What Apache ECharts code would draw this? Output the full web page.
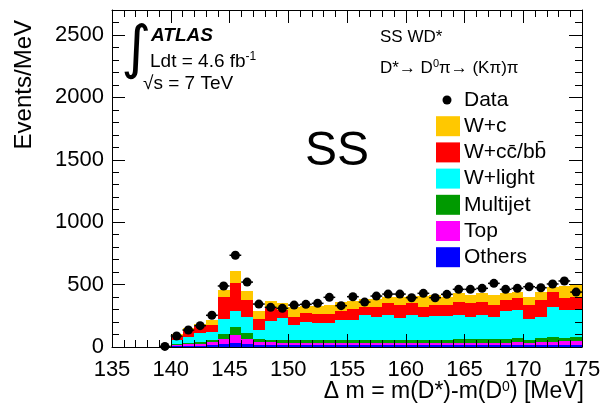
<!doctype html>
<html>
<head>
  <meta charset="utf-8">
  <title>SS WD* delta m</title>
  <script src="https://cdn.jsdelivr.net/npm/echarts@6/dist/echarts.min.js"></script>
  <style>
    html, body { margin: 0; padding: 0; background: #fff; }
    #main { width: 604px; height: 410px; }
  </style>
</head>
<body>
  <div id="main"></div>
  <script>
  // bin centres in MeV (1 MeV bins), values in Events/MeV
  var binCenters = [139.5, 140.5, 141.5, 142.5, 143.5, 144.5, 145.5, 146.5, 147.5, 148.5,
                    149.5, 150.5, 151.5, 152.5, 153.5, 154.5, 155.5, 156.5, 157.5, 158.5,
                    159.5, 160.5, 161.5, 162.5, 163.5, 164.5, 165.5, 166.5, 167.5, 168.5,
                    169.5, 170.5, 171.5, 172.5, 173.5, 174.5];
  var othersVals   = [0, 8, 10, 12, 13, 24, 30, 28, 20, 18, 16, 14, 14, 14, 14, 14, 14, 14,
                      14, 14, 14, 14, 14, 14, 14, 14, 14, 14, 14, 14, 15, 15, 15, 16, 16, 16];
  var topVals      = [0, 10, 12, 12, 24, 40, 64, 36, 23, 19, 19, 18, 18, 18, 18, 19, 19, 19,
                      19, 20, 20, 20, 20, 20, 21, 21, 21, 22, 22, 22, 25, 17, 25, 28, 34, 34];
  var multijetVals = [0, 7, 8, 18, 19, 40, 64, 46, 24, 23, 23, 23, 24, 24, 24, 24, 24, 25,
                      25, 24, 24, 25, 25, 26, 25, 27, 27, 27, 28, 29, 30, 28, 30, 36, 25, 28];
  var wlightVals   = [0, 31, 48, 73, 64, 118, 133, 133, 73, 146, 172, 121, 147, 134, 134, 159, 159, 198,
                      180, 198, 177, 197, 184, 188, 188, 194, 181, 193, 179, 226, 226, 162, 168, 243, 221, 218];
  var wccbbVals    = [0, 34, 58, 53, 56, 181, 224, 133, 85, 104, 66, 62, 72, 74, 74, 75, 88, 67,
                      85, 94, 101, 94, 80, 88, 88, 107, 107, 101, 93, 85, 94, 114, 138, 120, 94, 102];
  var wcVals       = [0, 11, 14, 16, 40, 53, 94, 75, 67, 61, 59, 85, 53, 64, 72, 72, 64, 59,
                      59, 53, 67, 58, 85, 80, 62, 67, 66, 73, 80, 54, 53, 67, 67, 40, 100, 107];
  var dataVals     = [5, 88, 136, 171, 254, 489, 735, 520, 344, 318, 310, 336, 342, 350, 398, 331, 403, 360,
                      408, 424, 424, 395, 430, 395, 422, 462, 462, 470, 510, 462, 470, 483, 475, 505, 529, 440];

  var xTicks = [135, 140, 145, 150, 155, 160, 165, 170, 175];
  var yTicks = [0, 500, 1000, 1500, 2000, 2500];

  var components = [
    { name: 'Others',   values: othersVals,   color: '#0000ff' },
    { name: 'Top',      values: topVals,      color: '#ff00ff' },
    { name: 'Multijet', values: multijetVals, color: '#009a00' },
    { name: 'W+light',  values: wlightVals,   color: '#00ffff' },
    { name: 'W+cc\u0304/bb\u0304', values: wccbbVals, color: '#ff0000' },
    { name: 'W+c',      values: wcVals,       color: '#ffc800' }
  ];

  var FONT = 'Liberation Sans, Arial, Helvetica, sans-serif';

  // cumulative stacking
  var running = binCenters.map(function () { return 0; });
  var series = components.map(function (comp) {
    var d = binCenters.map(function (c, i) {
      var lo = running[i];
      running[i] += comp.values[i];
      return [c, lo, running[i]];
    });
    return {
      name: comp.name,
      type: 'custom',
      xAxisIndex: 0,
      yAxisIndex: 0,
      itemStyle: { color: comp.color },
      renderItem: function (params, api) {
        var c = api.value(0), lo = api.value(1), hi = api.value(2);
        if (hi <= lo) return;
        var p0 = api.coord([c - 0.5, hi]);
        var p1 = api.coord([c + 0.5, lo]);
        var x0 = Math.round(p0[0]), x1 = Math.round(p1[0]);
        var y0 = Math.round(p0[1]), y1 = Math.round(p1[1]);
        return {
          type: 'rect',
          shape: { x: x0, y: y0, width: x1 - x0, height: y1 - y0 },
          style: { fill: api.visual('color') }
        };
      },
      data: d,
      z: 2
    };
  });

  series.push({
    name: 'Data',
    type: 'custom',
    xAxisIndex: 0,
    yAxisIndex: 0,
    renderItem: function (params, api) {
      var c = api.value(0), v = api.value(1);
      var pl = api.coord([c - 0.5, v]);
      var pr = api.coord([c + 0.5, v]);
      var pc = api.coord([c, v]);
      return {
        type: 'group',
        children: [
          { type: 'line', shape: { x1: pl[0], y1: pc[1], x2: pr[0], y2: pc[1] },
            style: { stroke: '#000', lineWidth: 1.5 } },
          { type: 'circle', shape: { cx: pc[0], cy: pc[1], r: 4.5 },
            style: { fill: '#000' } }
        ]
      };
    },
    data: binCenters.map(function (c, i) { return [c, dataVals[i]]; }),
    z: 4
  });

  function baseAxis(extra) {
    var a = {
      type: 'value',
      z: 10,
      axisLine: { show: true, onZero: false, lineStyle: { color: '#000', width: 1 } },
      axisTick: { show: true, inside: true, length: 13, lineStyle: { color: '#000' } },
      minorTick: { show: true, splitNumber: 5, length: 7, lineStyle: { color: '#000' } },
      splitLine: { show: false },
      minorSplitLine: { show: false }
    };
    for (var k in extra) a[k] = extra[k];
    return a;
  }

  var xLabel = { show: true, fontSize: 22, color: '#000', fontFamily: FONT, margin: 12,
    formatter: function (v) { return xTicks.indexOf(v) >= 0 ? String(v) : ''; } };
  var yLabel = { show: true, fontSize: 22, color: '#000', fontFamily: FONT, margin: 8,
    formatter: function (v) { return yTicks.indexOf(v) >= 0 ? String(v) : ''; } };

  // legend drawn as graphics in the ROOT style
  var legendItems = [{ name: 'Data', marker: 'dot' }].concat(
    components.slice().reverse().map(function (c) { return { name: c.name, color: c.color }; }));
  var legendGraphics = [];
  legendItems.forEach(function (it, i) {
    var cy = 100 + i * 26.2;
    if (it.marker === 'dot') {
      legendGraphics.push({ type: 'circle', shape: { cx: 447, cy: cy, r: 4.5 }, style: { fill: '#000' } });
    } else {
      legendGraphics.push({ type: 'rect', shape: { x: 436, y: cy - 10, width: 24, height: 20 },
        style: { fill: it.color } });
    }
    legendGraphics.push({ type: 'text', x: 464, y: cy,
      style: { text: it.name, font: '21px ' + FONT, fill: '#000', textAlign: 'left', textVerticalAlign: 'middle' } });
  });

  var option = {
    animation: false,
    backgroundColor: '#fff',
    grid: { left: 112, right: 22, top: 10, bottom: 63 },
    xAxis: [
      baseAxis({ position: 'bottom', min: 135, max: 175, interval: 5, axisLabel: xLabel }),
      baseAxis({ position: 'top', min: 135, max: 175, interval: 5, axisLabel: { show: false } })
    ],
    yAxis: [
      baseAxis({ position: 'left', min: 0, max: 2700, interval: 500, axisLabel: yLabel }),
      baseAxis({ position: 'right', min: 0, max: 2700, interval: 500, axisLabel: { show: false } })
    ],
    series: series,
    graphic: [
      { type: 'text', x: 24, y: 20, rotation: Math.PI / 2,
        style: { text: 'Events/MeV', font: '24px ' + FONT, fill: '#000', textAlign: 'right', textVerticalAlign: 'middle' } },
      { type: 'text', x: 584, y: 392,
        style: { text: '\u0394 m = m(D*)-m(D{sup|0}) [MeV]', font: '23px ' + FONT, fill: '#000',
          textAlign: 'right', textVerticalAlign: 'middle',
          rich: { sup: { fontSize: 14, verticalAlign: 'top', padding: [0, 0, 10, 0], fontFamily: FONT } } } },
      { type: 'text', x: 136, y: 52,
        style: { text: '\u222B', font: '58px DejaVu Sans', fill: '#000', textAlign: 'center', textVerticalAlign: 'middle' } },
      { type: 'text', x: 151, y: 36,
        style: { text: 'ATLAS', font: 'italic bold 19px ' + FONT, fill: '#000', textAlign: 'left', textVerticalAlign: 'middle' } },
      { type: 'text', x: 150, y: 62,
        style: { text: 'Ldt = 4.6 fb{sup|-1}', font: '19px ' + FONT, fill: '#000', textAlign: 'left', textVerticalAlign: 'middle',
          rich: { sup: { fontSize: 12, verticalAlign: 'top', padding: [0, 0, 10, 0], fontFamily: FONT } } } },
      { type: 'text', x: 143, y: 84,
        style: { text: '\u221As = 7 TeV', font: '19px ' + FONT, fill: '#000', textAlign: 'left', textVerticalAlign: 'middle' } },
      { type: 'text', x: 380, y: 37,
        style: { text: 'SS WD*', font: '17px ' + FONT, fill: '#000', textAlign: 'left', textVerticalAlign: 'middle' } },
      { type: 'text', x: 380, y: 68,
        style: { text: 'D*\u2192 D{sup|0}\u03C0\u2192 (K\u03C0)\u03C0', font: '17px ' + FONT, fill: '#000',
          textAlign: 'left', textVerticalAlign: 'middle',
          rich: { sup: { fontSize: 11, verticalAlign: 'top', padding: [0, 0, 9, 0], fontFamily: FONT } } } },
      { type: 'text', x: 337, y: 152,
        style: { text: 'SS', font: '48px ' + FONT, fill: '#000', textAlign: 'center', textVerticalAlign: 'middle' } }
    ].concat(legendGraphics)
  };

  var myChart = echarts.init(document.getElementById('main'));
  myChart.setOption(option);
  </script>
</body>
</html>
